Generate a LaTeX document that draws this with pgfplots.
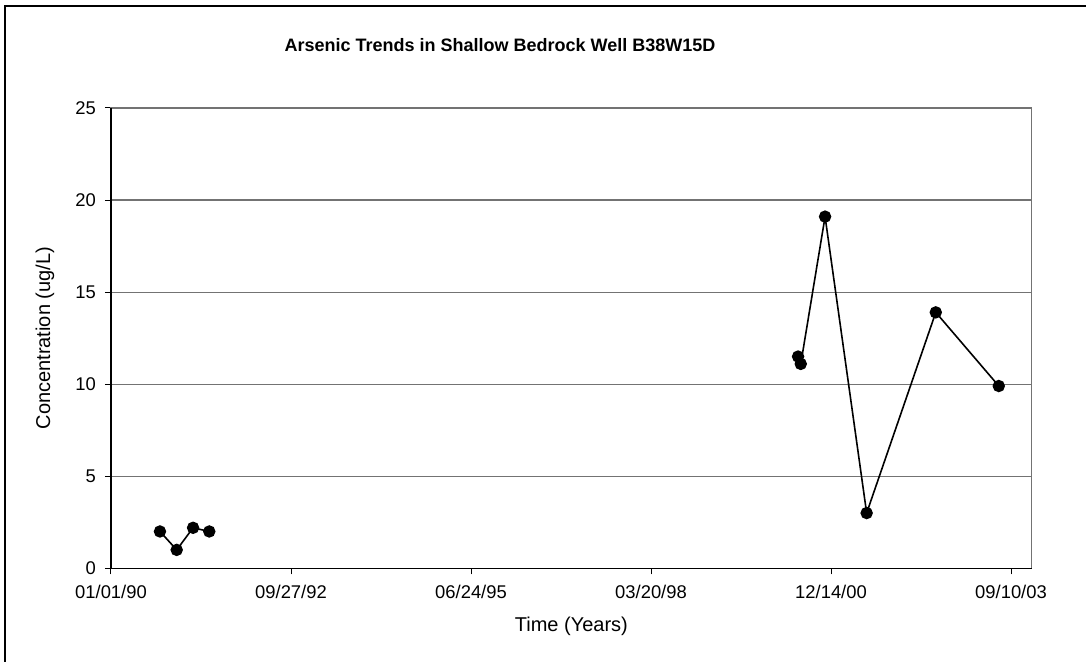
\documentclass[border=0pt]{standalone}
\usepackage{fontspec}
\setmainfont{Liberation Sans}
\usepackage{pgfplots}
\pgfplotsset{compat=1.18}
\begin{document}
\begin{tikzpicture}
\useasboundingbox (0pt,0pt) rectangle (543pt,331pt);
\draw[black,line width=0.6pt] (2.5pt,0pt) -- (2.5pt,328pt) -- (543pt,328pt);
\begin{axis}[
  at={(55.5pt,46.85pt)}, anchor=south west,
  scale only axis,
  width=460.35pt, height=230.15pt,
  xmin=32874, xmax=37989,
  ymin=0, ymax=25,
  scaled x ticks=false,
  xtick={32874,33874,34874,35874,36874,37874},
  xticklabels={01/01/90,09/27/92,06/24/95,03/20/98,12/14/00,09/10/03},
  ytick={0,5,10,15,20,25},
  tick pos=left,
  tick align=outside,
  major tick length=3pt,
  tick style={black,line width=0.5pt},
  axis line style={draw=gray!90!black,line width=0.6pt},
  ymajorgrids,
  grid style={gray!90!black,line width=0.6pt},
  font=\fontsize{10}{12}\selectfont,
  ticklabel style={font=\fontsize{9.2}{11}\selectfont},
  /pgf/number format/assume math mode=true,
  xticklabel style={yshift=-2pt},
  yticklabel style={xshift=-1pt},
  xlabel={Time (Years)},
  ylabel={Concentration (ug/L)},
  xlabel style={at={(axis description cs:0.5,-0.1254)},anchor=center,font=\fontsize{10}{12}\selectfont},
  ylabel style={at={(axis description cs:-0.0717,0.5)},anchor=center,font=\fontsize{10}{12}\selectfont},
  title={\bfseries Arsenic Trends in Shallow Bedrock Well B38W15D},
  title style={at={(axis description cs:0.4225,1.110)},anchor=center,font=\fontsize{9}{11}\selectfont},
  clip=false,
]
\addplot[black,line width=0.8pt,mark=*,mark size=2.7pt,mark options={fill=black}] coordinates {
  (33146,2.0) (33239,1.0) (33330,2.2) (33420,2.0)
};
\addplot[black,line width=0.8pt,mark=*,mark size=2.7pt,mark options={fill=black}] coordinates {
  (36691,11.5) (36706,11.1) (36841,19.1) (37072,3.0) (37456,13.9) (37806,9.9)
};
\draw[black,line width=0.6pt] (rel axis cs:0,1) -- (rel axis cs:0,0) -- (rel axis cs:1,0);
\end{axis}
\end{tikzpicture}
\end{document}
